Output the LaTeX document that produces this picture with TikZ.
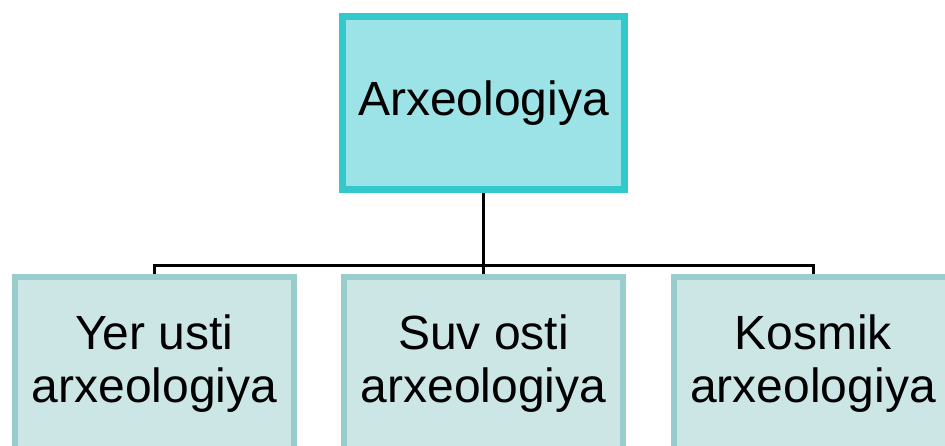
\documentclass[tikz,border=0pt]{standalone}
\usepackage{fontspec}
\setmainfont{Liberation Sans}
\definecolor{topfill}{HTML}{9BE3E6}
\definecolor{topdraw}{HTML}{33C9CC}
\definecolor{subfill}{HTML}{CCE6E6}
\definecolor{subdraw}{HTML}{99CCCC}
\tikzset{
  topbox/.style={draw=topdraw, fill=topfill, line width=7pt, minimum width=282pt, minimum height=173pt, inner sep=0pt, align=center, font=\fontsize{48}{53}\selectfont},
  subbox/.style={draw=subdraw, fill=subfill, line width=6pt, minimum width=279pt, minimum height=174pt, inner sep=0pt, align=center, font=\fontsize{48}{53}\selectfont},
  link/.style={draw=black, line width=3pt}
}
\begin{document}
\begin{tikzpicture}[x=1pt, y=-1pt]
\useasboundingbox (0,0) rectangle (945,445);
\clip (0,0) rectangle (945,445);
\fill[white] (0,0) rectangle (945,445);
\node[topbox] (top) at (483.5,103) {Arxeologiya};
\node[subbox] (left) at (154.5,364) {Yer usti\\arxeologiya};
\node[subbox] (mid) at (483.5,364) {Suv osti\\arxeologiya};
\node[subbox] (right) at (813,364) {Kosmik\\arxeologiya};
\coordinate (bus) at (483.5,265);
\draw[link] (top.south) -- (bus);
\draw[link] (left.north) |- (bus) -| (right.north);
\draw[link] (bus) -- (mid.north);
\end{tikzpicture}
\end{document}
